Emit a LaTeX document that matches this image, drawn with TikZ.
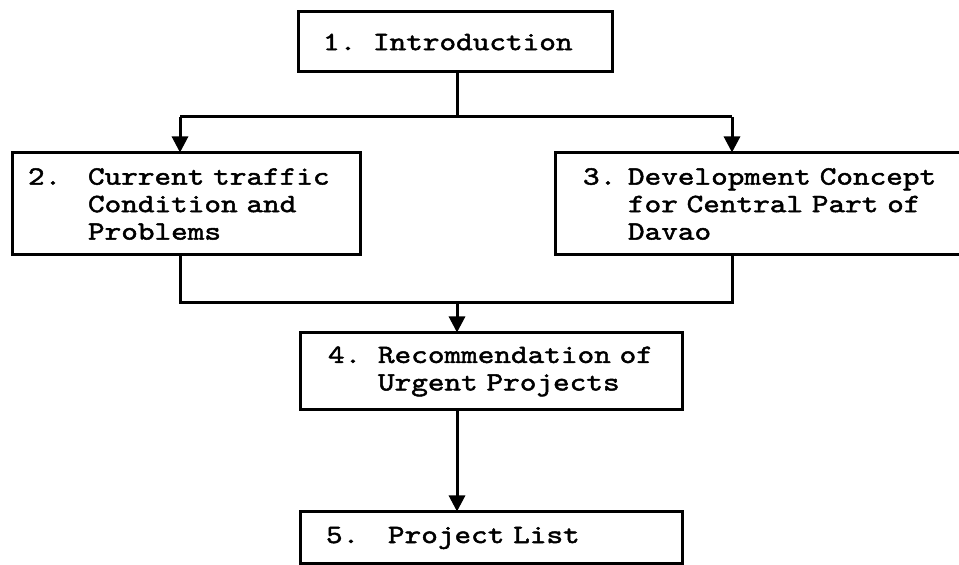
\documentclass[tikz,border=0pt]{standalone}
\usepackage{fontspec}
\newfontfamily\twfont[FakeStretch=1.2,FakeBold=1.8]{lmmono10-regular.otf}
\usetikzlibrary{arrows.meta}
\newcommand{\twsetup}{\twfont\fontsize{13.2}{13.75}\selectfont
  \fontdimen2\font=0.63em\fontdimen3\font=0pt\fontdimen4\font=0pt\relax}
\tikzset{
  box/.style={draw=black, line width=1.5pt, rectangle, inner sep=0pt, align=left,
    font=\twsetup},
  link/.style={draw=black, line width=1.5pt},
  arr/.style={link, -{Triangle[width=8pt,length=8pt]}, shorten >=-0.5pt}
}
\newcommand{\numlbl}[2]{\makebox[#1][l]{#2}}
\begin{document}
\begin{tikzpicture}[x=0.5pt, y=-0.5pt]
\useasboundingbox (0,0) rectangle (959,565);
% boxes
\node[box, minimum width=157pt, minimum height=30pt, text width=132pt] (b1) at (455,42)
  {\numlbl{25pt}{1.}Introduction};
\node[box, minimum width=174pt, minimum height=51pt, text width=158pt] (b2) at (186,204)
  {\numlbl{30pt}{2.}Current~traffic\\\hspace*{30pt}Condition~and\\\hspace*{30pt}Problems};
\node[box, minimum width=222.5pt, minimum height=51pt, text width=194.5pt] (b3) at (777.5,204)
  {\numlbl{22.5pt}{3.}Development~Concept\\\hspace*{22.5pt}for~Central~Part~of\\\hspace*{22.5pt}Davao};
\node[box, minimum width=191pt, minimum height=38.5pt, text width=163pt] (b4) at (491,371.5)
  {\numlbl{25pt}{4.}Recommendation~of\\\hspace*{25pt}Urgent~Projects};
\node[box, minimum width=191pt, minimum height=26pt, text width=165pt] (b5) at (491,538)
  {\numlbl{31pt}{5.}Project~List};
% junction points
\coordinate (j1) at (457,117);
\coordinate (jl) at (180,117);
\coordinate (jr) at (732,117);
\coordinate (k1) at (457,303);
\coordinate (kl) at (180,303);
\coordinate (kr) at (732,303);
% connectors
\draw[link] (j1 |- b1.south) -- (j1);
\draw[link] (jl) -- (jr);
\draw[arr] (jl) -- (jl |- b2.north);
\draw[arr] (jr) -- (jr |- b3.north);
\draw[link] (kl |- b2.south) -- (kl) -- (kr) -- (kr |- b3.south);
\draw[arr] (k1) -- (k1 |- b4.north);
\draw[arr] (k1 |- b4.south) -- (k1 |- b5.north);
\end{tikzpicture}
\end{document}
